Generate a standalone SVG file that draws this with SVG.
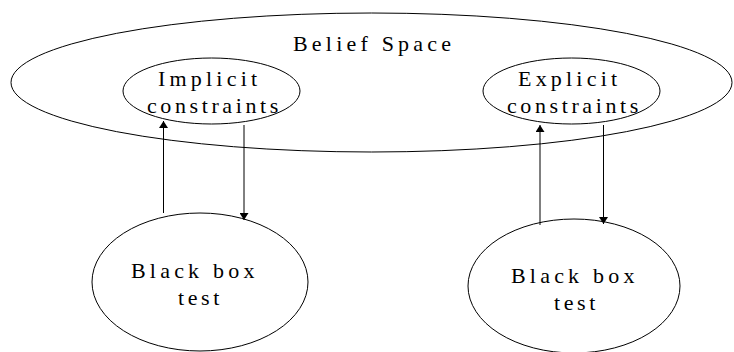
<svg xmlns="http://www.w3.org/2000/svg" width="734" height="352" viewBox="0 0 734 352">
  <style>
    .shape { fill: none; stroke: #000; stroke-width: 1; }
    .label { font-family: "Liberation Serif", "Times New Roman", serif; font-size: 22px; fill: #000; letter-spacing: 4.2px; }
    .tight { letter-spacing: 3.6px; }
    .edge { stroke: #000; stroke-width: 1; fill: none; marker-end: url(#head); }
  </style>
  <defs>
    <marker id="head" viewBox="0 0 10 10" preserveAspectRatio="none" refX="10" refY="5" markerWidth="7" markerHeight="9" markerUnits="userSpaceOnUse" orient="auto">
      <path d="M0,0 L10,5 L0,10 z" fill="#000"/>
    </marker>
  </defs>

  <g id="belief-space">
    <ellipse class="shape" cx="371.5" cy="82.5" rx="360.5" ry="69.5"/>
    <text class="label" x="293" y="51">Belief Space</text>
  </g>

  <g id="implicit-constraints">
    <ellipse class="shape" cx="211.5" cy="91" rx="88.5" ry="33"/>
    <text class="label" x="158" y="86">Implicit</text>
    <text class="label tight" x="147" y="113">constraints</text>
  </g>

  <g id="explicit-constraints">
    <ellipse class="shape" cx="571.5" cy="91" rx="88.5" ry="33"/>
    <text class="label" x="518" y="86">Explicit</text>
    <text class="label tight" x="507" y="113">constraints</text>
  </g>

  <g id="black-box-left">
    <ellipse class="shape" cx="200" cy="282" rx="108" ry="69"/>
    <text class="label" x="131" y="278">Black box</text>
    <text class="label tight" x="178" y="305">test</text>
  </g>

  <g id="black-box-right">
    <ellipse class="shape" cx="574" cy="286" rx="106" ry="67"/>
    <text class="label" x="511" y="283">Black box</text>
    <text class="label tight" x="554" y="310">test</text>
  </g>

  <g id="connectors">
    <line class="edge" x1="163.5" y1="213" x2="163.5" y2="121"/>
    <line class="edge" x1="244" y1="125" x2="244" y2="220"/>
    <line class="edge" x1="540" y1="225" x2="540" y2="125"/>
    <line class="edge" x1="603.5" y1="125" x2="603.5" y2="224"/>
  </g>
</svg>
